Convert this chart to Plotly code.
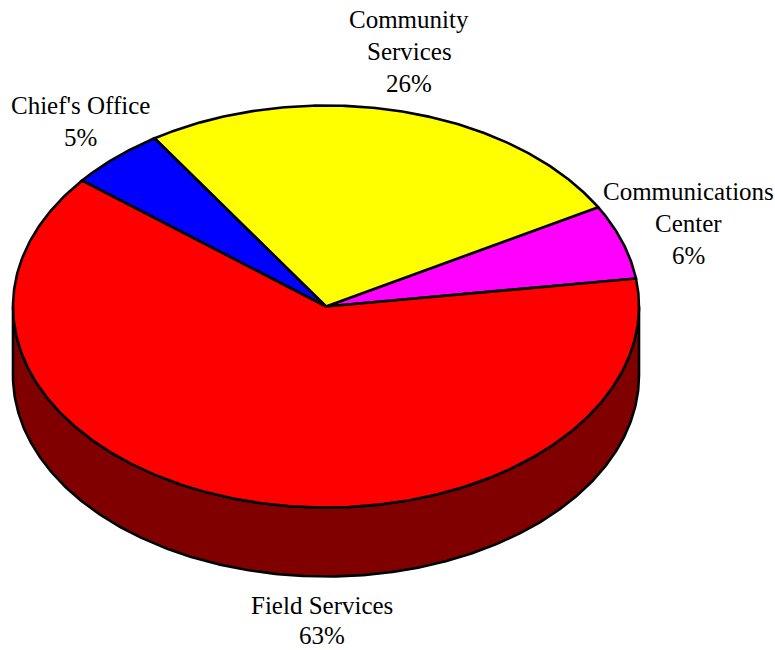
import numpy as np
import plotly.graph_objects as go

# Department shares of the budget, counter-clockwise from the start angle
departments = ["Communications<br>Center", "Community<br>Services", "Chief's Office", "Field Services"]
shares = [6, 26, 5, 63]
top_colors = ["#ff00ff", "#ffff00", "#0000ff", "#ff0000"]
wall_color = "#800000"

# Ellipse geometry of the tilted pie, in canvas units
CX, CY = 326.0, 306.5
RX, RY = 313.0, 201.0
DEPTH = 69.0
START_DEG = 8.0


def rim(a_deg, b_deg, drop=0.0):
    t = np.radians(np.linspace(a_deg, b_deg, max(int(abs(b_deg - a_deg) * 2), 2)))
    return CX + RX * np.cos(t), CY - RY * np.sin(t) + drop


fig = go.Figure()
line = dict(color="black", width=2.6)

# Visible outer wall: the front half of the rim, dropped by the pie's depth
x_top, y_top = rim(180, 360)
x_low, y_low = rim(360, 180, DEPTH)
fig.add_trace(go.Scatter(
    x=np.r_[x_top, x_low, x_top[0]], y=np.r_[y_top, y_low, y_top[0]],
    mode="lines", fill="toself", fillcolor=wall_color, line=line, hoverinfo="skip",
))

# Top face wedges, one per department
edges = START_DEG + np.cumsum([0] + shares) * 3.6
for name, color, a, b in zip(departments, top_colors, edges[:-1], edges[1:]):
    xs, ys = rim(a, b)
    fig.add_trace(go.Scatter(
        x=np.r_[CX, xs, CX], y=np.r_[CY, ys, CY],
        mode="lines", fill="toself", fillcolor=color, line=line,
        name=name.replace("<br>", " "), hoverinfo="name",
    ))

# Labels sit outside the pie, with the share on the last line
label_x = [688, 409, 80, 322]
label_top = [191, 19, 105, 605]
line_gap = [32.2, 32.2, 32.2, 30.0]
for name, share, lx, ly, gap in zip(departments, shares, label_x, label_top, line_gap):
    for i, row in enumerate(name.split("<br>") + [f"{share}%"]):
        fig.add_annotation(
            x=lx, y=ly + i * gap, text=row, showarrow=False,
            xanchor="center", yanchor="middle",
            font=dict(family="Liberation Serif", size=25, color="black"),
        )

fig.update_layout(
    width=775, height=650, margin=dict(l=0, r=0, t=0, b=0),
    paper_bgcolor="white", plot_bgcolor="white", showlegend=False,
    xaxis=dict(range=[0, 775], visible=False),
    yaxis=dict(range=[650, 0], visible=False),
)
fig.write_html("out.html")
